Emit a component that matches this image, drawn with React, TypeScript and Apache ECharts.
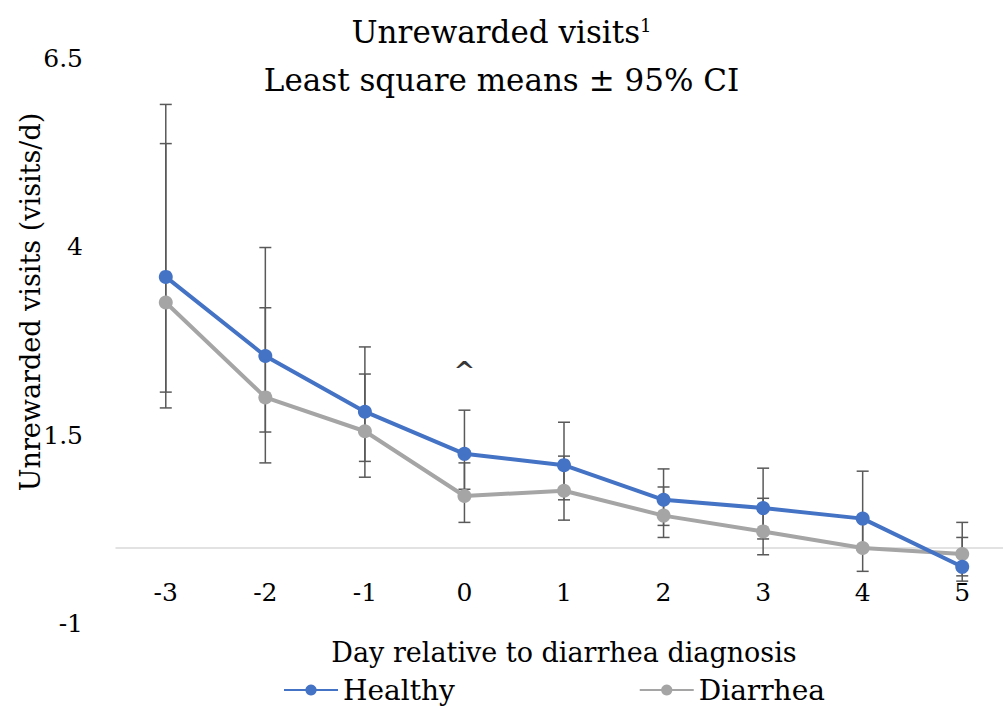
import React, { useEffect, useRef } from "react";
import * as echarts from "echarts";

const days = ["-3", "-2", "-1", "0", "1", "2", "3", "4", "5"];
const healthy = [3.6, 2.55, 1.81, 1.25, 1.1, 0.64, 0.53, 0.39, -0.25];
const healthyUpper = [5.89, 3.99, 2.67, 1.83, 1.67, 1.05, 1.06, 1.02, 0.14];
const healthyLower = [2.07, 1.54, 1.15, 0.78, 0.64, 0.3, 0.12, -0.03, -0.44];
const diarrhea = [3.26, 2.0, 1.55, 0.69, 0.76, 0.43, 0.22, 0.0, -0.08];
const diarrheaUpper = [5.37, 3.19, 2.31, 1.13, 1.22, 0.81, 0.66, 0.37, 0.34];
const diarrheaLower = [1.86, 1.13, 0.94, 0.34, 0.37, 0.14, -0.09, -0.31, -0.37];
const yMin = -1;
const yMax = 6.5;
const yStep = 2.5;
const annotations = [{ day: "0", value: 2.35, text: "^" }];

const FONT = "'DejaVu Serif', serif";
const BLUE = "#4472C4";
const GRAY = "#A5A5A5";
const BAR = "#595959";

function errorBarSeries(lower: number[], upper: number[]) {
  return {
    type: "custom",
    z: 1,
    silent: true,
    data: days.map((_, i) => [i, lower[i], upper[i]]),
    encode: { x: 0, y: [1, 2] },
    renderItem: (_params: any, api: any) => {
      const x = api.value(0);
      const lo = api.coord([x, api.value(1)]);
      const hi = api.coord([x, api.value(2)]);
      const w = 6;
      const style = { stroke: BAR, lineWidth: 1.5 };
      return {
        type: "group",
        children: [
          { type: "line", shape: { x1: hi[0], y1: hi[1], x2: lo[0], y2: lo[1] }, style },
          { type: "line", shape: { x1: hi[0] - w, y1: hi[1], x2: hi[0] + w, y2: hi[1] }, style },
          { type: "line", shape: { x1: lo[0] - w, y1: lo[1], x2: lo[0] + w, y2: lo[1] }, style },
        ],
      };
    },
  };
}

export default function App() {
  const ref = useRef<HTMLDivElement>(null);
  useEffect(() => {
    document.body.style.margin = "0";
    const chart = echarts.init(ref.current!, null, { renderer: "svg" });
    const option: any = {
      animation: false,
      backgroundColor: "#ffffff",
      textStyle: { fontFamily: FONT },
      title: [
        {
          text: "Unrewarded visits{sup|1}",
          left: "center",
          top: 11,
          textStyle: {
            fontFamily: FONT,
            fontSize: 31,
            fontWeight: "normal",
            color: "#000",
            rich: {
              sup: { fontFamily: FONT, fontSize: 18, color: "#000", verticalAlign: "top", padding: [0, 0, 14, 0] },
            },
          },
        },
        {
          text: "Least square means ± 95% CI",
          left: "center",
          top: 59,
          textStyle: { fontFamily: FONT, fontSize: 31, fontWeight: "normal", color: "#000" },
        },
      ],
      legend: {
        data: ["Healthy", "Diarrhea"],
        left: 283,
        top: 676,
        padding: 0,
        itemWidth: 54,
        itemHeight: 14,
        itemGap: 184,
        textStyle: { fontFamily: FONT, fontSize: 28, color: "#000" },
      },
      grid: { left: 116, right: -9, top: 58.5, bottom: 84.7, containLabel: false, outerBoundsMode: "none" },
      xAxis: {
        type: "category",
        data: days,
        boundaryGap: true,
        axisLine: { onZero: true, lineStyle: { color: "#D9D9D9", width: 1.5 } },
        axisTick: { show: false },
        axisLabel: { margin: -43, fontFamily: FONT, fontSize: 25, color: "#000" },
        splitLine: { show: false },
      },
      yAxis: {
        type: "value",
        min: yMin,
        max: yMax,
        interval: yStep,
        axisLine: { show: false },
        axisTick: { show: false },
        splitLine: { show: false },
        axisLabel: { margin: 33, fontFamily: FONT, fontSize: 25, color: "#000" },
      },
      graphic: [
        {
          type: "text",
          x: 30,
          y: 302,
          rotation: Math.PI / 2,
          style: {
            text: "Unrewarded visits (visits/d)",
            fontFamily: FONT,
            fontSize: 27,
            fill: "#000",
            align: "center",
            verticalAlign: "middle",
          },
        },
        {
          type: "text",
          x: 564,
          y: 652,
          style: {
            text: "Day relative to diarrhea diagnosis",
            fontFamily: FONT,
            fontSize: 27,
            fill: "#000",
            align: "center",
            verticalAlign: "middle",
          },
        },
      ],
      series: [
        errorBarSeries(healthyLower, healthyUpper),
        errorBarSeries(diarrheaLower, diarrheaUpper),
        {
          name: "Healthy",
          type: "line",
          z: 3,
          data: healthy,
          symbol: "circle",
          symbolSize: 14,
          lineStyle: { color: BLUE, width: 4 },
          itemStyle: { color: BLUE },
        },
        {
          name: "Diarrhea",
          type: "line",
          z: 2,
          data: diarrhea,
          symbol: "circle",
          symbolSize: 14,
          lineStyle: { color: GRAY, width: 4 },
          itemStyle: { color: GRAY },
        },
        {
          type: "scatter",
          z: 4,
          silent: true,
          symbolSize: 1,
          itemStyle: { color: "rgba(0,0,0,0)" },
          data: annotations.map((a) => [days.indexOf(a.day), a.value]),
          label: {
            show: true,
            position: "inside",
            formatter: (p: any) => annotations[p.dataIndex].text,
            fontFamily: FONT,
            fontSize: 26,
            fontWeight: "bold",
            color: "#000",
          },
        },
      ],
    };
    chart.setOption(option);
    return () => chart.dispose();
  }, []);
  return <div ref={ref} style={{ width: 1003, height: 708 }} />;
}
